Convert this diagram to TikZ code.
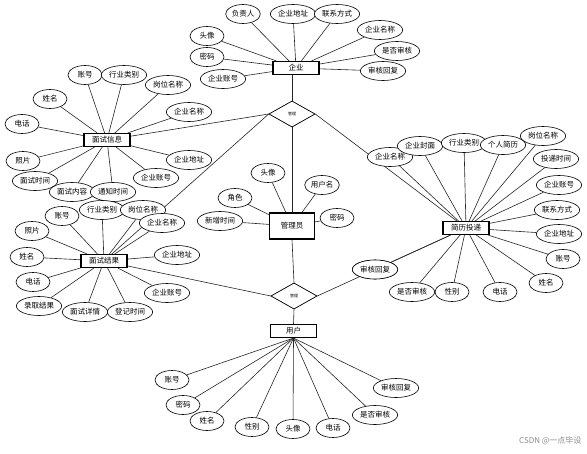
\documentclass[tikz,border=0pt]{standalone}
\usepackage{fontspec}
\setmainfont{Noto Sans CJK SC}
\usetikzlibrary{shapes.geometric}
\tikzset{
  attr/.style={ellipse, draw, line width=0.6pt, fill=white, inner xsep=1pt, inner ysep=0pt,
    minimum width=34pt, minimum height=19pt, font=\fontsize{7.5}{8}\selectfont},
  ent/.style={rectangle, draw, line width=1.1pt, fill=white, minimum width=46pt,
    minimum height=13pt, inner sep=0pt, font=\fontsize{7.5}{8}\selectfont},
  rel/.style={diamond, draw, line width=0.6pt, fill=white, minimum width=46pt,
    minimum height=26pt, inner sep=0pt, font=\fontsize{4}{4}\selectfont},
  conn/.style={line width=0.6pt, draw=black!85}
}
\begin{document}
\begin{tikzpicture}[x=1pt,y=-1pt]
\useasboundingbox (0,0) rectangle (587,453);
\fill[white] (0,0) rectangle (587,453);

% relations and entities
\node[rel] (d1) at (292,114) {管理};
\node[rel] (d2) at (294,296) {管理};
\node[ent] (qy) at (296,68) {企业};
\node[ent] (msxx) at (107,140) {面试信息};
\node[ent] (msjg) at (104,261) {面试结果};
\node[ent, minimum width=45pt, minimum height=26pt] (gly) at (292,226) {管理员};
\node[ent] (jltd) at (466,228) {简历投递};
\node[ent] (yh) at (293.5,331) {用户};

\draw[conn] (d1.north) -- (d1.north |- qy.south);
\draw[conn] (d1.west) -- (msxx);
\draw[conn] (d1.west) -- (msjg);
\draw[conn] (d1.south) -- (gly.north);
\draw[conn] (d1.east) -- (jltd);
\draw[conn] (gly.south) -- (d2.north);
\draw[conn] (d2.west) -- (msjg);
\draw[conn] (d2.east) -- (jltd);
\draw[conn] (d2.south) -- (yh.north);

% 企业
\foreach \t/\x/\y [count=\i] in {负责人/243/14, 企业地址/293/14, 联系方式/337/14, 企业名称/380/30,
  是否审核/397/51, 审核回复/383/71, 头像/207/36, 密码/207/57, 企业账号/223/79}
  {\node[attr] (qa\i) at (\x,\y) {\t}; \draw[conn] (qa\i) -- (qy);}

% 面试信息
\foreach \t/\x/\y [count=\i] in {账号/85/75, 行业类别/124/75, 岗位名称/168/85, 姓名/50/99,
  企业名称/189/112, 电话/22/124, 照片/23/161, 企业地址/189/160, 面试时间/35/181,
  面试内容/72/192, 通知时间/113/192, 企业账号/156/178}
  {\node[attr] (xa\i) at (\x,\y) {\t}; \draw[conn] (xa\i) -- (msxx);}

% 面试结果
\foreach \t/\x/\y [count=\i] in {账号/62/216, 行业类别/102/210, 岗位名称/143/210, 照片/32/231,
  企业名称/162/223, 姓名/27/257, 企业地址/177/255, 电话/33/282, 企业账号/167/293,
  录取结果/39/306, 面试详情/85/312, 登记时间/130/312}
  {\node[attr] (ja\i) at (\x,\y) {\t}; \draw[conn] (ja\i) -- (msjg);}

% 管理员
\foreach \t/\x/\y [count=\i] in {头像/268/173, 用户名/322/185, 角色/235/198, 密码/337/218, 新增时间/220/221}
  {\node[attr] (ga\i) at (\x,\y) {\t}; \draw[conn] (ga\i) -- (gly);}

% 简历投递
\foreach \t/\x/\y [count=\i] in {企业名称/390/157, 企业封面/420/146, 行业类别/464/143, 个人简历/503/145,
  岗位名称/543/136, 投递时间/556/159, 企业账号/559/185, 联系方式/557/210, 企业地址/559/234,
  账号/563/259, 姓名/546/283, 电话/500/292, 性别/452/292, 是否审核/412/292, 审核回复/375/269.5}
  {\node[attr] (ta\i) at (\x,\y) {\t}; \draw[conn] (ta\i) -- (jltd);}

% 用户
\foreach \t/\x/\y [count=\i] in {账号/172/380, 密码/183/405, 姓名/207/421, 性别/252/427, 头像/293/429,
  电话/333/428, 是否审核/375/415, 审核回复/396/388}
  {\node[attr] (ua\i) at (\x,\y) {\t}; \draw[conn] (ua\i) -- (yh.south);}

% redraw boxes on top of connectors
\node[ent] at (qy) {企业};
\node[ent] at (msxx) {面试信息};
\node[ent] at (msjg) {面试结果};
\node[ent, minimum width=45pt, minimum height=26pt] at (gly) {管理员};
\node[ent] at (jltd) {简历投递};
\node[ent] at (yh) {用户};
\node[rel] at (d1) {管理};
\node[rel] at (d2) {管理};
\node[attr] at (ta15) {审核回复};

\node[text=black!45, font=\fontsize{8}{9}\selectfont, anchor=east] (wm) at (585,441) {CSDN @一点毕设};
\end{tikzpicture}
\end{document}
